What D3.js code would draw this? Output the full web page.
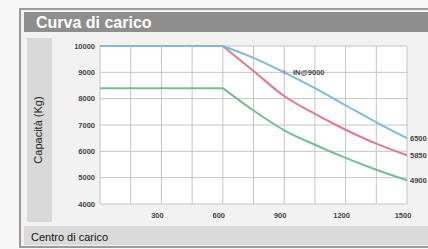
<!DOCTYPE html>
<html lang="it">
<head>
<meta charset="UTF-8">
<title>Curva di carico</title>
<script src="https://cdn.jsdelivr.net/npm/d3@7/dist/d3.min.js"></script>
<style>
  body { margin: 0; background: #f7f7f7; }
  svg { display: block; font-family: "Liberation Sans", Arial, sans-serif; }
  .grid line { stroke: #c4c4c4; stroke-width: 1; }
  .tick-lbl { font-size: 7.5px; fill: #444; font-weight: bold; }
  .curve { fill: none; stroke-width: 2; }
</style>
</head>
<body>
<svg width="428" height="249"></svg>
<script>
// load center (mm) and capacity (kg)
var centers = [0, 600, 750, 900, 1050, 1200, 1350, 1500];
var blueVals  = [10000, 10000, 9550, 9000, 8400, 7750, 7100, 6500];
var redVals   = [10000, 10000, 9050, 8100, 7420, 6820, 6290, 5850];
var greenVals = [8400, 8400, 7550, 6800, 6250, 5750, 5300, 4900];
var endLabels = ['6500', '5850', '4900'];
var xTicks = [300, 600, 900, 1200, 1500];
var yTicks = [4000, 5000, 6000, 7000, 8000, 9000, 10000];

var svg = d3.select('svg');

// frame
svg.append('rect').attr('x', 20).attr('y', 9).attr('width', 420).attr('height', 238)
  .attr('fill', '#f2f2f2').attr('stroke', '#9a9a9a').attr('stroke-width', 2);
svg.append('rect').attr('x', 24).attr('y', 12).attr('width', 410).attr('height', 20)
  .attr('fill', '#8e8e8e');
svg.append('text').attr('x', 36).attr('y', 28).text('Curva di carico')
  .attr('fill', '#fff').attr('font-size', 16).attr('font-weight', 'bold');

// y title band
svg.append('rect').attr('x', 27).attr('y', 38).attr('width', 25).attr('height', 184)
  .attr('fill', '#d9d9d9');
svg.append('text').attr('transform', 'translate(42,130) rotate(-90)')
  .attr('text-anchor', 'middle').attr('font-size', 11).attr('fill', '#222')
  .text('Capacità (Kg)');

// bottom band
svg.append('rect').attr('x', 24).attr('y', 226).attr('width', 410).attr('height', 19)
  .attr('fill', '#dadada');
svg.append('text').attr('x', 31).attr('y', 241).attr('font-size', 11).attr('fill', '#111')
  .text('Centro di carico');

var x = d3.scaleLinear().domain([0, 1500]).range([100, 407]);
var y = d3.scaleLinear().domain([4000, 10000]).range([204, 46]);

svg.append('rect').attr('x', 100).attr('y', 46).attr('width', 307).attr('height', 158)
  .attr('fill', '#fff');

var grid = svg.append('g').attr('class', 'grid');
grid.selectAll('.vg').data(d3.range(0, 1501, 150)).enter().append('line')
  .attr('x1', d => x(d)).attr('x2', d => x(d)).attr('y1', y(10000)).attr('y2', y(4000));
grid.selectAll('.hg').data(yTicks).enter().append('line')
  .attr('x1', x(0)).attr('x2', x(1500)).attr('y1', d => y(d)).attr('y2', d => y(d));

svg.selectAll('.ylab').data(yTicks).enter().append('text')
  .attr('class', 'tick-lbl').attr('x', 95).attr('y', d => y(d) + 2.5)
  .attr('text-anchor', 'end').text(d => d);
svg.selectAll('.xlab').data(xTicks).enter().append('text')
  .attr('class', 'tick-lbl').attr('x', d => x(d) - 4).attr('y', 218)
  .attr('text-anchor', 'middle').text(d => d);

// flat part straight, falling part smooth -> sharp knee at 600
var flat = d3.line().x(d => x(d[0])).y(d => y(d[1]));
var fall = d3.line().x(d => x(d[0])).y(d => y(d[1])).curve(d3.curveMonotoneX);
var series = [
  { vals: greenVals, color: '#72c08e' },
  { vals: redVals, color: '#e27a82' },
  { vals: blueVals, color: '#7cbcdc' }
];
series.forEach(function(s) {
  var pts = centers.map((c, i) => [c, s.vals[i]]);
  svg.append('path').attr('class', 'curve').attr('stroke', s.color)
    .attr('d', flat(pts.slice(0, 2)) + fall(pts.slice(1)).replace(/^M/, 'L'));
});

// end labels
[blueVals, redVals, greenVals].forEach(function(v, i) {
  svg.append('text').attr('class', 'tick-lbl').attr('x', 410)
    .attr('y', y(v[v.length - 1]) + 3).text(endLabels[i]);
});

// annotation on blue curve
svg.append('circle').attr('cx', x(900)).attr('cy', y(9000)).attr('r', 2)
  .attr('fill', '#a99bc6');
svg.append('text').attr('class', 'tick-lbl').attr('x', 293).attr('y', y(9000) + 2.5)
  .text('IN@9000');
</script>
</body>
</html>
